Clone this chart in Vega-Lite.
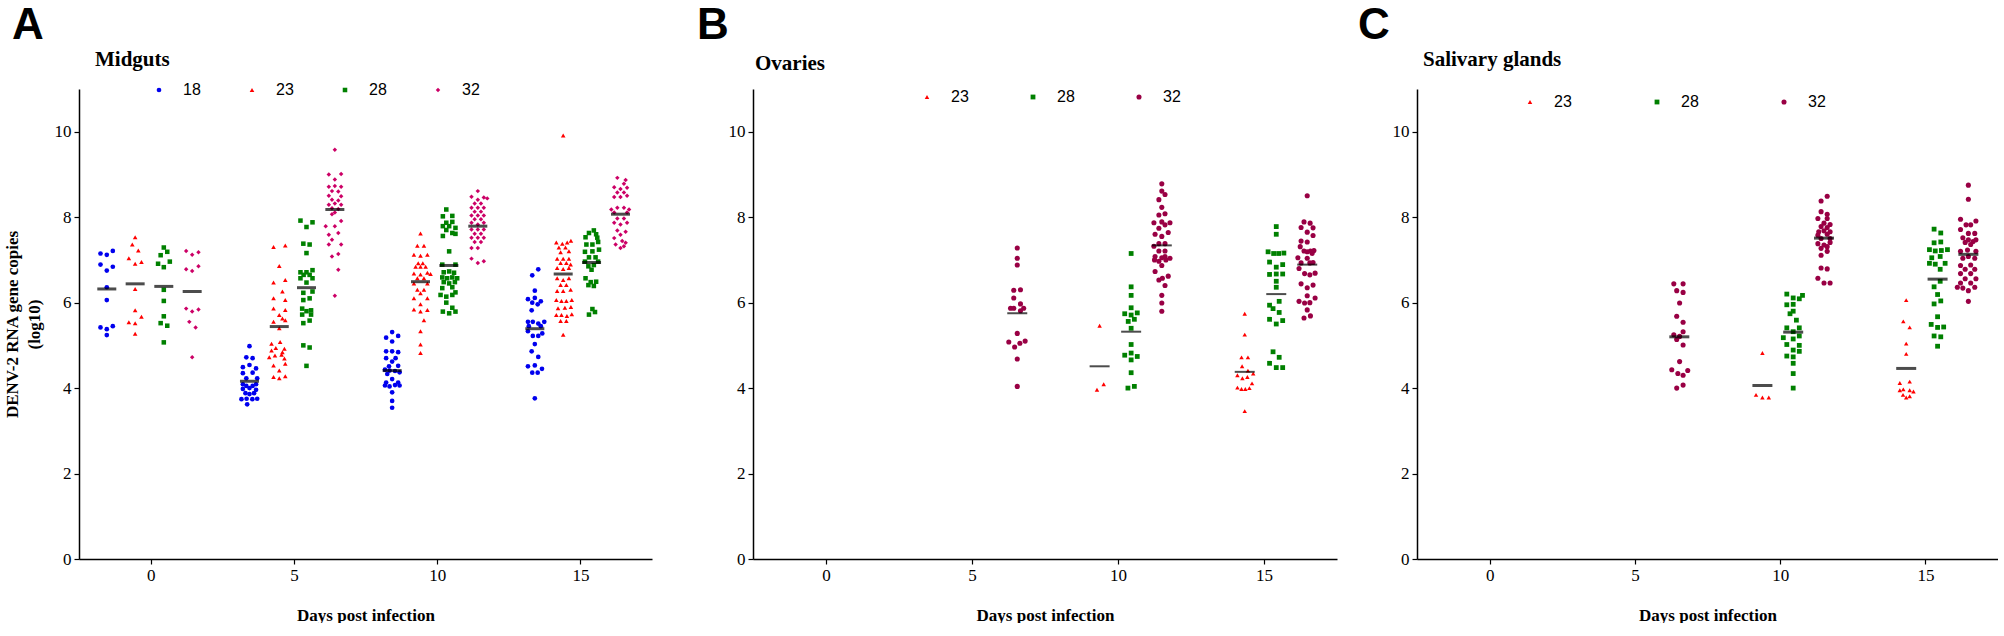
{
  "$schema": "https://vega.github.io/schema/vega-lite/v6.json",
  "padding": {"left": 3, "top": 4, "right": 0, "bottom": 0},
  "background": "white",
  "datasets": {
    "A": [
      {"t":"18","x":-1.75,"y":7.15},{"t":"18","x":-1.53,"y":7.12},{"t":"18","x":-1.32,"y":7.21},{"t":"18","x":-1.75,"y":6.89},{"t":"18","x":-1.32,"y":6.84},{"t":"18","x":-1.53,"y":6.75},{"t":"18","x":-1.53,"y":6.36},{"t":"18","x":-1.53,"y":6.06},{"t":"18","x":-1.75,"y":5.42},{"t":"18","x":-1.53,"y":5.38},{"t":"18","x":-1.32,"y":5.45},{"t":"18","x":-1.53,"y":5.24},
      {"t":"23","x":-0.54,"y":7.53},{"t":"23","x":-0.64,"y":7.36},{"t":"23","x":-0.43,"y":7.22},{"t":"23","x":-0.76,"y":7.04},{"t":"23","x":-0.54,"y":6.91},{"t":"23","x":-0.32,"y":6.95},{"t":"23","x":-0.54,"y":6.32},{"t":"23","x":-0.54,"y":5.82},{"t":"23","x":-0.76,"y":5.54},{"t":"23","x":-0.54,"y":5.52},{"t":"23","x":-0.32,"y":5.67},{"t":"23","x":-0.54,"y":5.27},
      {"t":"28","x":0.46,"y":7.29},{"t":"28","x":0.58,"y":7.19},{"t":"28","x":0.35,"y":7.11},{"t":"28","x":0.26,"y":6.91},{"t":"28","x":0.67,"y":6.96},{"t":"28","x":0.46,"y":6.83},{"t":"28","x":0.46,"y":6.30},{"t":"28","x":0.46,"y":6.04},{"t":"28","x":0.46,"y":5.68},{"t":"28","x":0.35,"y":5.52},{"t":"28","x":0.58,"y":5.46},{"t":"28","x":0.46,"y":5.07},
      {"t":"32","x":1.24,"y":7.21},{"t":"32","x":1.45,"y":7.12},{"t":"32","x":1.67,"y":7.18},{"t":"32","x":1.24,"y":6.78},{"t":"32","x":1.45,"y":6.74},{"t":"32","x":1.67,"y":6.85},{"t":"32","x":1.24,"y":5.86},{"t":"32","x":1.45,"y":5.79},{"t":"32","x":1.67,"y":5.84},{"t":"32","x":1.35,"y":5.55},{"t":"32","x":1.57,"y":5.42},{"t":"32","x":1.45,"y":4.72},
      {"t":"18","x":3.45,"y":4.98},{"t":"18","x":3.34,"y":4.72},{"t":"18","x":3.56,"y":4.70},{"t":"18","x":3.22,"y":4.49},{"t":"18","x":3.45,"y":4.54},{"t":"18","x":3.68,"y":4.46},{"t":"18","x":3.22,"y":4.35},{"t":"18","x":3.56,"y":4.36},{"t":"18","x":3.34,"y":4.23},{"t":"18","x":3.72,"y":4.23},{"t":"18","x":3.22,"y":4.09},{"t":"18","x":3.34,"y":4.05},{"t":"18","x":3.45,"y":4.00},{"t":"18","x":3.56,"y":4.05},{"t":"18","x":3.68,"y":4.09},{"t":"18","x":3.22,"y":3.98},{"t":"18","x":3.68,"y":3.96},{"t":"18","x":3.31,"y":3.88},{"t":"18","x":3.45,"y":3.86},{"t":"18","x":3.61,"y":3.88},{"t":"18","x":3.17,"y":3.74},{"t":"18","x":3.35,"y":3.75},{"t":"18","x":3.55,"y":3.74},{"t":"18","x":3.72,"y":3.75},{"t":"18","x":3.37,"y":3.62},
      {"t":"23","x":4.29,"y":7.30},{"t":"23","x":4.70,"y":7.34},{"t":"23","x":4.49,"y":6.86},{"t":"23","x":4.29,"y":6.47},{"t":"23","x":4.70,"y":6.53},{"t":"23","x":4.60,"y":6.26},{"t":"23","x":4.29,"y":6.10},{"t":"23","x":4.70,"y":6.06},{"t":"23","x":4.29,"y":5.86},{"t":"23","x":4.70,"y":5.83},{"t":"23","x":4.49,"y":5.71},{"t":"23","x":4.60,"y":5.63},{"t":"23","x":4.29,"y":5.55},{"t":"23","x":4.70,"y":5.59},{"t":"23","x":4.49,"y":5.40},{"t":"23","x":4.22,"y":5.04},{"t":"23","x":4.52,"y":5.08},{"t":"23","x":4.37,"y":4.94},{"t":"23","x":4.67,"y":4.92},{"t":"23","x":4.22,"y":4.88},{"t":"23","x":4.60,"y":4.84},{"t":"23","x":4.34,"y":4.76},{"t":"23","x":4.57,"y":4.78},{"t":"23","x":4.14,"y":4.72},{"t":"23","x":4.67,"y":4.69},{"t":"23","x":4.29,"y":4.53},{"t":"23","x":4.70,"y":4.57},{"t":"23","x":4.49,"y":4.41},{"t":"23","x":4.29,"y":4.26},{"t":"23","x":4.70,"y":4.28},{"t":"23","x":4.49,"y":4.23},
      {"t":"28","x":5.23,"y":7.92},{"t":"28","x":5.65,"y":7.88},{"t":"28","x":5.44,"y":7.77},{"t":"28","x":5.33,"y":7.38},{"t":"28","x":5.55,"y":7.36},{"t":"28","x":5.44,"y":7.16},{"t":"28","x":5.23,"y":6.71},{"t":"28","x":5.44,"y":6.71},{"t":"28","x":5.65,"y":6.76},{"t":"28","x":5.34,"y":6.65},{"t":"28","x":5.55,"y":6.65},{"t":"28","x":5.23,"y":6.57},{"t":"28","x":5.65,"y":6.57},{"t":"28","x":5.44,"y":6.47},{"t":"28","x":5.65,"y":6.26},{"t":"28","x":5.33,"y":6.23},{"t":"28","x":5.55,"y":6.10},{"t":"28","x":5.33,"y":6.06},{"t":"28","x":5.29,"y":5.86},{"t":"28","x":5.44,"y":5.80},{"t":"28","x":5.60,"y":5.82},{"t":"28","x":5.29,"y":5.72},{"t":"28","x":5.60,"y":5.72},{"t":"28","x":5.55,"y":5.58},{"t":"28","x":5.33,"y":5.52},{"t":"28","x":5.33,"y":5.00},{"t":"28","x":5.55,"y":4.95},{"t":"28","x":5.44,"y":4.52},
      {"t":"32","x":6.43,"y":9.58},{"t":"32","x":6.22,"y":9.00},{"t":"32","x":6.65,"y":9.01},{"t":"32","x":6.43,"y":8.88},{"t":"32","x":6.22,"y":8.71},{"t":"32","x":6.43,"y":8.73},{"t":"32","x":6.65,"y":8.71},{"t":"32","x":6.33,"y":8.61},{"t":"32","x":6.55,"y":8.60},{"t":"32","x":6.22,"y":8.50},{"t":"32","x":6.65,"y":8.49},{"t":"32","x":6.33,"y":8.41},{"t":"32","x":6.55,"y":8.39},{"t":"32","x":6.43,"y":8.32},{"t":"32","x":6.22,"y":8.29},{"t":"32","x":6.65,"y":8.29},{"t":"32","x":6.33,"y":8.21},{"t":"32","x":6.55,"y":8.19},{"t":"32","x":6.43,"y":8.11},{"t":"32","x":6.33,"y":8.07},{"t":"32","x":6.11,"y":7.79},{"t":"32","x":6.43,"y":7.79},{"t":"32","x":6.65,"y":7.91},{"t":"32","x":6.22,"y":7.59},{"t":"32","x":6.55,"y":7.63},{"t":"32","x":6.33,"y":7.47},{"t":"32","x":6.22,"y":7.36},{"t":"32","x":6.65,"y":7.36},{"t":"32","x":6.55,"y":7.14},{"t":"32","x":6.33,"y":7.08},{"t":"32","x":6.55,"y":6.77},{"t":"32","x":6.43,"y":6.16},
      {"t":"18","x":8.22,"y":5.18},{"t":"18","x":8.43,"y":5.31},{"t":"18","x":8.64,"y":5.22},{"t":"18","x":8.43,"y":5.09},{"t":"18","x":8.22,"y":4.86},{"t":"18","x":8.43,"y":4.86},{"t":"18","x":8.64,"y":4.84},{"t":"18","x":8.22,"y":4.70},{"t":"18","x":8.55,"y":4.70},{"t":"18","x":8.43,"y":4.62},{"t":"18","x":8.32,"y":4.51},{"t":"18","x":8.64,"y":4.52},{"t":"18","x":8.18,"y":4.43},{"t":"18","x":8.34,"y":4.41},{"t":"18","x":8.53,"y":4.40},{"t":"18","x":8.69,"y":4.37},{"t":"18","x":8.26,"y":4.33},{"t":"18","x":8.43,"y":4.21},{"t":"18","x":8.22,"y":4.13},{"t":"18","x":8.64,"y":4.13},{"t":"18","x":8.18,"y":4.06},{"t":"18","x":8.34,"y":4.04},{"t":"18","x":8.53,"y":4.07},{"t":"18","x":8.69,"y":4.06},{"t":"18","x":8.43,"y":3.90},{"t":"18","x":8.43,"y":3.70},{"t":"18","x":8.43,"y":3.54},
      {"t":"23","x":9.42,"y":7.62},{"t":"23","x":9.31,"y":7.33},{"t":"23","x":9.54,"y":7.33},{"t":"23","x":9.19,"y":7.12},{"t":"23","x":9.42,"y":7.10},{"t":"23","x":9.66,"y":7.12},{"t":"23","x":9.34,"y":6.92},{"t":"23","x":9.50,"y":6.92},{"t":"23","x":9.25,"y":6.84},{"t":"23","x":9.42,"y":6.84},{"t":"23","x":9.60,"y":6.84},{"t":"23","x":9.19,"y":6.68},{"t":"23","x":9.66,"y":6.70},{"t":"23","x":9.42,"y":6.66},{"t":"23","x":9.31,"y":6.57},{"t":"23","x":9.54,"y":6.57},{"t":"23","x":9.77,"y":6.67},{"t":"23","x":9.19,"y":6.45},{"t":"23","x":9.66,"y":6.45},{"t":"23","x":9.31,"y":6.30},{"t":"23","x":9.54,"y":6.30},{"t":"23","x":9.42,"y":6.22},{"t":"23","x":9.19,"y":6.10},{"t":"23","x":9.66,"y":6.10},{"t":"23","x":9.42,"y":5.96},{"t":"23","x":9.19,"y":5.84},{"t":"23","x":9.42,"y":5.79},{"t":"23","x":9.66,"y":5.83},{"t":"23","x":9.54,"y":5.59},{"t":"23","x":9.42,"y":5.33},{"t":"23","x":9.42,"y":5.02},{"t":"23","x":9.42,"y":4.82},
      {"t":"28","x":10.32,"y":8.18},{"t":"28","x":10.20,"y":8.02},{"t":"28","x":10.53,"y":8.03},{"t":"28","x":10.32,"y":7.87},{"t":"28","x":10.53,"y":7.89},{"t":"28","x":10.20,"y":7.79},{"t":"28","x":10.42,"y":7.79},{"t":"28","x":10.64,"y":7.75},{"t":"28","x":10.32,"y":7.70},{"t":"28","x":10.53,"y":7.63},{"t":"28","x":10.20,"y":7.56},{"t":"28","x":10.64,"y":7.61},{"t":"28","x":10.42,"y":7.20},{"t":"28","x":10.18,"y":6.89},{"t":"28","x":10.64,"y":6.89},{"t":"28","x":10.23,"y":6.71},{"t":"28","x":10.42,"y":6.73},{"t":"28","x":10.59,"y":6.70},{"t":"28","x":10.18,"y":6.59},{"t":"28","x":10.35,"y":6.57},{"t":"28","x":10.53,"y":6.59},{"t":"28","x":10.70,"y":6.57},{"t":"28","x":10.23,"y":6.48},{"t":"28","x":10.42,"y":6.45},{"t":"28","x":10.62,"y":6.48},{"t":"28","x":10.18,"y":6.34},{"t":"28","x":10.53,"y":6.36},{"t":"28","x":10.12,"y":6.18},{"t":"28","x":10.32,"y":6.14},{"t":"28","x":10.53,"y":6.18},{"t":"28","x":10.64,"y":6.24},{"t":"28","x":10.32,"y":6.00},{"t":"28","x":10.53,"y":5.88},{"t":"28","x":10.20,"y":5.79},{"t":"28","x":10.42,"y":5.75},{"t":"28","x":10.64,"y":5.79},
      {"t":"32","x":11.42,"y":8.61},{"t":"32","x":11.20,"y":8.48},{"t":"32","x":11.63,"y":8.46},{"t":"32","x":11.42,"y":8.41},{"t":"32","x":11.31,"y":8.32},{"t":"32","x":11.53,"y":8.32},{"t":"32","x":11.75,"y":8.44},{"t":"32","x":11.20,"y":8.22},{"t":"32","x":11.42,"y":8.22},{"t":"32","x":11.63,"y":8.22},{"t":"32","x":11.31,"y":8.13},{"t":"32","x":11.53,"y":8.13},{"t":"32","x":11.20,"y":8.04},{"t":"32","x":11.42,"y":8.04},{"t":"32","x":11.63,"y":8.04},{"t":"32","x":11.31,"y":7.95},{"t":"32","x":11.53,"y":7.95},{"t":"32","x":11.20,"y":7.87},{"t":"32","x":11.42,"y":7.83},{"t":"32","x":11.63,"y":7.87},{"t":"32","x":11.20,"y":7.71},{"t":"32","x":11.42,"y":7.71},{"t":"32","x":11.63,"y":7.71},{"t":"32","x":11.31,"y":7.61},{"t":"32","x":11.53,"y":7.61},{"t":"32","x":11.20,"y":7.52},{"t":"32","x":11.42,"y":7.52},{"t":"32","x":11.63,"y":7.52},{"t":"32","x":11.31,"y":7.42},{"t":"32","x":11.53,"y":7.42},{"t":"32","x":11.20,"y":7.28},{"t":"32","x":11.42,"y":7.28},{"t":"32","x":11.20,"y":7.03},{"t":"32","x":11.63,"y":6.97},{"t":"32","x":11.42,"y":6.93},
      {"t":"18","x":13.32,"y":6.64},{"t":"18","x":13.53,"y":6.78},{"t":"18","x":13.41,"y":6.28},{"t":"18","x":13.17,"y":6.08},{"t":"18","x":13.41,"y":6.11},{"t":"18","x":13.62,"y":6.03},{"t":"18","x":13.32,"y":6.00},{"t":"18","x":13.51,"y":5.96},{"t":"18","x":13.30,"y":5.82},{"t":"18","x":13.17,"y":5.55},{"t":"18","x":13.34,"y":5.55},{"t":"18","x":13.53,"y":5.51},{"t":"18","x":13.74,"y":5.55},{"t":"18","x":13.20,"y":5.45},{"t":"18","x":13.62,"y":5.45},{"t":"18","x":13.17,"y":5.33},{"t":"18","x":13.34,"y":5.22},{"t":"18","x":13.53,"y":5.22},{"t":"18","x":13.67,"y":5.28},{"t":"18","x":13.41,"y":5.03},{"t":"18","x":13.30,"y":4.86},{"t":"18","x":13.53,"y":4.73},{"t":"18","x":13.17,"y":4.51},{"t":"18","x":13.41,"y":4.53},{"t":"18","x":13.66,"y":4.45},{"t":"18","x":13.32,"y":4.36},{"t":"18","x":13.51,"y":4.36},{"t":"18","x":13.41,"y":3.76},
      {"t":"23","x":14.40,"y":9.91},{"t":"23","x":14.16,"y":7.41},{"t":"23","x":14.37,"y":7.38},{"t":"23","x":14.54,"y":7.41},{"t":"23","x":14.67,"y":7.45},{"t":"23","x":14.25,"y":7.29},{"t":"23","x":14.48,"y":7.29},{"t":"23","x":14.31,"y":7.18},{"t":"23","x":14.60,"y":7.20},{"t":"23","x":14.19,"y":7.03},{"t":"23","x":14.40,"y":7.03},{"t":"23","x":14.60,"y":7.03},{"t":"23","x":14.31,"y":6.93},{"t":"23","x":14.51,"y":6.93},{"t":"23","x":14.66,"y":6.89},{"t":"23","x":14.19,"y":6.81},{"t":"23","x":14.40,"y":6.79},{"t":"23","x":14.60,"y":6.81},{"t":"23","x":14.19,"y":6.57},{"t":"23","x":14.40,"y":6.53},{"t":"23","x":14.60,"y":6.57},{"t":"23","x":14.31,"y":6.41},{"t":"23","x":14.51,"y":6.41},{"t":"23","x":14.19,"y":6.27},{"t":"23","x":14.40,"y":6.27},{"t":"23","x":14.66,"y":6.30},{"t":"23","x":14.16,"y":6.06},{"t":"23","x":14.34,"y":6.04},{"t":"23","x":14.51,"y":6.04},{"t":"23","x":14.70,"y":6.06},{"t":"23","x":14.22,"y":5.87},{"t":"23","x":14.46,"y":5.88},{"t":"23","x":14.67,"y":5.90},{"t":"23","x":14.16,"y":5.71},{"t":"23","x":14.34,"y":5.71},{"t":"23","x":14.53,"y":5.69},{"t":"23","x":14.70,"y":5.73},{"t":"23","x":14.31,"y":5.57},{"t":"23","x":14.51,"y":5.57},{"t":"23","x":14.40,"y":5.25},
      {"t":"28","x":15.30,"y":7.63},{"t":"28","x":15.47,"y":7.69},{"t":"28","x":15.55,"y":7.60},{"t":"28","x":15.18,"y":7.53},{"t":"28","x":15.59,"y":7.52},{"t":"28","x":15.21,"y":7.36},{"t":"28","x":15.42,"y":7.36},{"t":"28","x":15.62,"y":7.42},{"t":"28","x":15.16,"y":7.19},{"t":"28","x":15.42,"y":7.20},{"t":"28","x":15.65,"y":7.24},{"t":"28","x":15.30,"y":7.06},{"t":"28","x":15.53,"y":7.06},{"t":"28","x":15.16,"y":6.96},{"t":"28","x":15.62,"y":6.96},{"t":"28","x":15.28,"y":6.85},{"t":"28","x":15.47,"y":6.88},{"t":"28","x":15.39,"y":6.77},{"t":"28","x":15.18,"y":6.57},{"t":"28","x":15.36,"y":6.48},{"t":"28","x":15.55,"y":6.49},{"t":"28","x":15.28,"y":6.41},{"t":"28","x":15.47,"y":6.39},{"t":"28","x":15.30,"y":5.72},{"t":"28","x":15.51,"y":5.78},{"t":"28","x":15.42,"y":5.85},
      {"t":"32","x":16.29,"y":8.92},{"t":"32","x":16.58,"y":8.87},{"t":"32","x":16.52,"y":8.78},{"t":"32","x":16.18,"y":8.70},{"t":"32","x":16.40,"y":8.66},{"t":"32","x":16.63,"y":8.69},{"t":"32","x":16.29,"y":8.58},{"t":"32","x":16.52,"y":8.58},{"t":"32","x":16.18,"y":8.47},{"t":"32","x":16.40,"y":8.47},{"t":"32","x":16.63,"y":8.50},{"t":"32","x":16.08,"y":8.18},{"t":"32","x":16.29,"y":8.22},{"t":"32","x":16.52,"y":8.22},{"t":"32","x":16.70,"y":8.18},{"t":"32","x":16.18,"y":8.11},{"t":"32","x":16.63,"y":8.11},{"t":"32","x":16.29,"y":7.97},{"t":"32","x":16.52,"y":7.97},{"t":"32","x":16.18,"y":7.87},{"t":"32","x":16.40,"y":7.83},{"t":"32","x":16.63,"y":7.87},{"t":"32","x":16.29,"y":7.69},{"t":"32","x":16.58,"y":7.66},{"t":"32","x":16.18,"y":7.51},{"t":"32","x":16.40,"y":7.59},{"t":"32","x":16.23,"y":7.36},{"t":"32","x":16.58,"y":7.40},{"t":"32","x":16.40,"y":7.28},{"t":"32","x":16.52,"y":7.32},{"t":"32","x":16.46,"y":7.44}
    ],
    "Amed": [
      {"t":"18","x":-1.53,"y":6.32},{"t":"18","x":3.45,"y":4.16},{"t":"18","x":8.43,"y":4.41},{"t":"18","x":13.41,"y":5.39},
      {"t":"23","x":-0.54,"y":6.44},{"t":"23","x":4.49,"y":5.44},{"t":"23","x":9.42,"y":6.49},{"t":"23","x":14.40,"y":6.67},
      {"t":"28","x":0.46,"y":6.38},{"t":"28","x":5.44,"y":6.35},{"t":"28","x":10.41,"y":6.87},{"t":"28","x":15.39,"y":6.94},
      {"t":"32","x":1.45,"y":6.26},{"t":"32","x":6.43,"y":8.18},{"t":"32","x":11.42,"y":7.79},{"t":"32","x":16.40,"y":8.07}
    ],
    "B": [
      {"t":"32","x":6.55,"y":7.28},{"t":"32","x":6.55,"y":7.04},{"t":"32","x":6.55,"y":6.88},{"t":"32","x":6.43,"y":6.29},{"t":"32","x":6.66,"y":6.30},{"t":"32","x":6.43,"y":6.11},{"t":"32","x":6.66,"y":5.97},{"t":"32","x":6.32,"y":5.87},{"t":"32","x":6.43,"y":5.87},{"t":"32","x":6.77,"y":5.87},{"t":"32","x":6.66,"y":5.81},{"t":"32","x":6.55,"y":5.28},{"t":"32","x":6.26,"y":5.08},{"t":"32","x":6.46,"y":4.96},{"t":"32","x":6.64,"y":5.05},{"t":"32","x":6.82,"y":5.10},{"t":"32","x":6.55,"y":4.68},{"t":"32","x":6.55,"y":4.04},
      {"t":"23","x":9.37,"y":5.46},{"t":"23","x":9.51,"y":4.09},{"t":"23","x":9.28,"y":3.96},
      {"t":"28","x":10.45,"y":7.15},{"t":"28","x":10.45,"y":6.37},{"t":"28","x":10.45,"y":6.17},{"t":"28","x":10.45,"y":5.88},{"t":"28","x":10.23,"y":5.74},{"t":"28","x":10.45,"y":5.71},{"t":"28","x":10.66,"y":5.76},{"t":"28","x":10.56,"y":5.61},{"t":"28","x":10.35,"y":5.56},{"t":"28","x":10.45,"y":5.40},{"t":"28","x":10.45,"y":5.02},{"t":"28","x":10.23,"y":4.77},{"t":"28","x":10.45,"y":4.82},{"t":"28","x":10.66,"y":4.74},{"t":"28","x":10.45,"y":4.66},{"t":"28","x":10.45,"y":4.36},{"t":"28","x":10.34,"y":4.00},{"t":"28","x":10.56,"y":4.04},
      {"t":"32","x":11.50,"y":8.78},{"t":"32","x":11.50,"y":8.61},{"t":"32","x":11.61,"y":8.53},{"t":"32","x":11.40,"y":8.41},{"t":"32","x":11.50,"y":8.23},{"t":"32","x":11.40,"y":8.05},{"t":"32","x":11.61,"y":8.08},{"t":"32","x":11.23,"y":7.87},{"t":"32","x":11.50,"y":7.89},{"t":"32","x":11.78,"y":7.87},{"t":"32","x":11.61,"y":7.82},{"t":"32","x":11.40,"y":7.74},{"t":"32","x":11.27,"y":7.60},{"t":"32","x":11.72,"y":7.64},{"t":"32","x":11.50,"y":7.55},{"t":"32","x":11.40,"y":7.38},{"t":"32","x":11.61,"y":7.38},{"t":"32","x":11.23,"y":7.32},{"t":"32","x":11.40,"y":7.21},{"t":"32","x":11.61,"y":7.21},{"t":"32","x":11.27,"y":7.08},{"t":"32","x":11.61,"y":7.08},{"t":"32","x":11.50,"y":7.05},{"t":"32","x":11.25,"y":7.00},{"t":"32","x":11.40,"y":6.97},{"t":"32","x":11.64,"y":7.00},{"t":"32","x":11.78,"y":7.04},{"t":"32","x":11.50,"y":6.87},{"t":"32","x":11.27,"y":6.73},{"t":"32","x":11.40,"y":6.53},{"t":"32","x":11.52,"y":6.57},{"t":"32","x":11.72,"y":6.62},{"t":"32","x":11.61,"y":6.40},{"t":"32","x":11.50,"y":6.17},{"t":"32","x":11.50,"y":5.99},{"t":"32","x":11.50,"y":5.80},
      {"t":"23","x":14.34,"y":5.74},{"t":"23","x":14.34,"y":5.25},{"t":"23","x":14.23,"y":4.72},{"t":"23","x":14.45,"y":4.72},{"t":"23","x":14.25,"y":4.51},{"t":"23","x":14.45,"y":4.41},{"t":"23","x":14.09,"y":4.30},{"t":"23","x":14.26,"y":4.23},{"t":"23","x":14.43,"y":4.26},{"t":"23","x":14.63,"y":4.34},{"t":"23","x":14.59,"y":4.11},{"t":"23","x":14.09,"y":4.01},{"t":"23","x":14.23,"y":3.98},{"t":"23","x":14.36,"y":3.98},{"t":"23","x":14.50,"y":4.00},{"t":"23","x":14.34,"y":3.46},
      {"t":"28","x":15.42,"y":7.78},{"t":"28","x":15.42,"y":7.60},{"t":"28","x":15.14,"y":7.19},{"t":"28","x":15.33,"y":7.15},{"t":"28","x":15.50,"y":7.15},{"t":"28","x":15.68,"y":7.16},{"t":"28","x":15.19,"y":6.95},{"t":"28","x":15.42,"y":6.83},{"t":"28","x":15.64,"y":6.89},{"t":"28","x":15.19,"y":6.66},{"t":"28","x":15.42,"y":6.67},{"t":"28","x":15.64,"y":6.67},{"t":"28","x":15.42,"y":6.50},{"t":"28","x":15.42,"y":6.36},{"t":"28","x":15.52,"y":6.03},{"t":"28","x":15.19,"y":5.94},{"t":"28","x":15.31,"y":5.86},{"t":"28","x":15.52,"y":5.77},{"t":"28","x":15.19,"y":5.61},{"t":"28","x":15.42,"y":5.50},{"t":"28","x":15.64,"y":5.58},{"t":"28","x":15.31,"y":4.85},{"t":"28","x":15.52,"y":4.72},{"t":"28","x":15.19,"y":4.58},{"t":"28","x":15.42,"y":4.48},{"t":"28","x":15.64,"y":4.48},
      {"t":"32","x":16.48,"y":8.50},{"t":"32","x":16.37,"y":7.89},{"t":"32","x":16.58,"y":7.86},{"t":"32","x":16.27,"y":7.76},{"t":"32","x":16.68,"y":7.75},{"t":"32","x":16.48,"y":7.65},{"t":"32","x":16.68,"y":7.57},{"t":"32","x":16.27,"y":7.44},{"t":"32","x":16.48,"y":7.42},{"t":"32","x":16.24,"y":7.31},{"t":"32","x":16.37,"y":7.21},{"t":"32","x":16.48,"y":7.19},{"t":"32","x":16.59,"y":7.21},{"t":"32","x":16.71,"y":7.22},{"t":"32","x":16.65,"y":7.15},{"t":"32","x":16.16,"y":7.05},{"t":"32","x":16.48,"y":7.04},{"t":"32","x":16.27,"y":6.93},{"t":"32","x":16.57,"y":6.93},{"t":"32","x":16.68,"y":6.94},{"t":"32","x":16.20,"y":6.80},{"t":"32","x":16.39,"y":6.68},{"t":"32","x":16.57,"y":6.65},{"t":"32","x":16.75,"y":6.69},{"t":"32","x":16.27,"y":6.44},{"t":"32","x":16.48,"y":6.35},{"t":"32","x":16.68,"y":6.41},{"t":"32","x":16.48,"y":6.16},{"t":"32","x":16.75,"y":6.11},{"t":"32","x":16.20,"y":6.03},{"t":"32","x":16.39,"y":5.99},{"t":"32","x":16.57,"y":6.00},{"t":"32","x":16.48,"y":5.83},{"t":"32","x":16.37,"y":5.64},{"t":"32","x":16.59,"y":5.69}
    ],
    "Bmed": [
      {"t":"32","x":6.55,"y":5.75},{"t":"32","x":11.50,"y":7.34},{"t":"32","x":16.48,"y":6.89},
      {"t":"23","x":9.37,"y":4.51},{"t":"23","x":14.34,"y":4.38},
      {"t":"28","x":10.45,"y":5.32},{"t":"28","x":15.42,"y":6.20}
    ],
    "C": [
      {"t":"32","x":6.34,"y":6.44},{"t":"32","x":6.66,"y":6.44},{"t":"32","x":6.44,"y":6.28},{"t":"32","x":6.66,"y":6.24},{"t":"32","x":6.54,"y":5.99},{"t":"32","x":6.44,"y":5.68},{"t":"32","x":6.66,"y":5.54},{"t":"32","x":6.66,"y":5.32},{"t":"32","x":6.34,"y":5.25},{"t":"32","x":6.54,"y":5.21},{"t":"32","x":6.44,"y":5.14},{"t":"32","x":6.66,"y":5.01},{"t":"32","x":6.54,"y":4.62},{"t":"32","x":6.27,"y":4.43},{"t":"32","x":6.48,"y":4.34},{"t":"32","x":6.66,"y":4.30},{"t":"32","x":6.82,"y":4.41},{"t":"32","x":6.66,"y":4.07},{"t":"32","x":6.44,"y":4.00},
      {"t":"23","x":9.39,"y":4.82},{"t":"23","x":9.17,"y":3.84},{"t":"23","x":9.39,"y":3.78},{"t":"23","x":9.61,"y":3.78},
      {"t":"28","x":10.23,"y":6.20},{"t":"28","x":10.45,"y":6.11},{"t":"28","x":10.66,"y":6.09},{"t":"28","x":10.77,"y":6.17},{"t":"28","x":10.23,"y":5.95},{"t":"28","x":10.45,"y":5.96},{"t":"28","x":10.45,"y":5.80},{"t":"28","x":10.34,"y":5.74},{"t":"28","x":10.56,"y":5.59},{"t":"28","x":10.23,"y":5.41},{"t":"28","x":10.66,"y":5.41},{"t":"28","x":10.45,"y":5.32},{"t":"28","x":10.66,"y":5.22},{"t":"28","x":10.11,"y":5.18},{"t":"28","x":10.45,"y":5.15},{"t":"28","x":10.23,"y":5.02},{"t":"28","x":10.66,"y":5.00},{"t":"28","x":10.45,"y":4.89},{"t":"28","x":10.23,"y":4.75},{"t":"28","x":10.66,"y":4.86},{"t":"28","x":10.45,"y":4.73},{"t":"28","x":10.45,"y":4.58},{"t":"28","x":10.45,"y":4.34},{"t":"28","x":10.45,"y":4.00},
      {"t":"32","x":11.62,"y":8.49},{"t":"32","x":11.41,"y":8.38},{"t":"32","x":11.41,"y":8.13},{"t":"32","x":11.62,"y":8.07},{"t":"32","x":11.30,"y":7.97},{"t":"32","x":11.62,"y":7.97},{"t":"32","x":11.51,"y":7.86},{"t":"32","x":11.72,"y":7.83},{"t":"32","x":11.41,"y":7.78},{"t":"32","x":11.62,"y":7.76},{"t":"32","x":11.33,"y":7.66},{"t":"32","x":11.51,"y":7.68},{"t":"32","x":11.72,"y":7.66},{"t":"32","x":11.30,"y":7.58},{"t":"32","x":11.62,"y":7.60},{"t":"32","x":11.41,"y":7.50},{"t":"32","x":11.72,"y":7.50},{"t":"32","x":11.30,"y":7.38},{"t":"32","x":11.51,"y":7.35},{"t":"32","x":11.72,"y":7.41},{"t":"32","x":11.62,"y":7.31},{"t":"32","x":11.41,"y":7.27},{"t":"32","x":11.62,"y":7.20},{"t":"32","x":11.41,"y":7.11},{"t":"32","x":11.41,"y":6.81},{"t":"32","x":11.62,"y":6.79},{"t":"32","x":11.30,"y":6.57},{"t":"32","x":11.51,"y":6.46},{"t":"32","x":11.72,"y":6.46},
      {"t":"23","x":14.34,"y":6.06},{"t":"23","x":14.24,"y":5.56},{"t":"23","x":14.46,"y":5.42},{"t":"23","x":14.34,"y":5.04},{"t":"23","x":14.34,"y":4.80},{"t":"23","x":14.12,"y":4.12},{"t":"23","x":14.46,"y":4.15},{"t":"23","x":14.12,"y":3.95},{"t":"23","x":14.24,"y":3.97},{"t":"23","x":14.46,"y":3.95},{"t":"23","x":14.59,"y":3.92},{"t":"23","x":14.23,"y":3.84},{"t":"23","x":14.34,"y":3.78},{"t":"23","x":14.46,"y":3.81},
      {"t":"28","x":15.30,"y":7.72},{"t":"28","x":15.53,"y":7.63},{"t":"28","x":15.30,"y":7.40},{"t":"28","x":15.53,"y":7.42},{"t":"28","x":15.14,"y":7.24},{"t":"28","x":15.34,"y":7.21},{"t":"28","x":15.55,"y":7.22},{"t":"28","x":15.76,"y":7.24},{"t":"28","x":15.22,"y":7.05},{"t":"28","x":15.51,"y":7.08},{"t":"28","x":15.14,"y":6.92},{"t":"28","x":15.34,"y":6.90},{"t":"28","x":15.68,"y":6.92},{"t":"28","x":15.51,"y":6.78},{"t":"28","x":15.51,"y":6.50},{"t":"28","x":15.30,"y":6.37},{"t":"28","x":15.42,"y":6.19},{"t":"28","x":15.53,"y":6.04},{"t":"28","x":15.30,"y":5.97},{"t":"28","x":15.42,"y":5.67},{"t":"28","x":15.20,"y":5.49},{"t":"28","x":15.42,"y":5.42},{"t":"28","x":15.63,"y":5.43},{"t":"28","x":15.30,"y":5.22},{"t":"28","x":15.53,"y":5.20},{"t":"28","x":15.42,"y":4.98},
      {"t":"32","x":16.48,"y":8.75},{"t":"32","x":16.48,"y":8.42},{"t":"32","x":16.21,"y":7.95},{"t":"32","x":16.74,"y":7.91},{"t":"32","x":16.40,"y":7.82},{"t":"32","x":16.56,"y":7.82},{"t":"32","x":16.21,"y":7.71},{"t":"32","x":16.48,"y":7.62},{"t":"32","x":16.70,"y":7.62},{"t":"32","x":16.29,"y":7.52},{"t":"32","x":16.48,"y":7.47},{"t":"32","x":16.64,"y":7.43},{"t":"32","x":16.37,"y":7.41},{"t":"32","x":16.56,"y":7.36},{"t":"32","x":16.74,"y":7.47},{"t":"32","x":16.21,"y":7.20},{"t":"32","x":16.45,"y":7.23},{"t":"32","x":16.74,"y":7.20},{"t":"32","x":16.48,"y":7.08},{"t":"32","x":16.29,"y":7.04},{"t":"32","x":16.70,"y":7.04},{"t":"32","x":16.21,"y":6.87},{"t":"32","x":16.56,"y":6.88},{"t":"32","x":16.37,"y":6.78},{"t":"32","x":16.70,"y":6.78},{"t":"32","x":16.21,"y":6.68},{"t":"32","x":16.56,"y":6.68},{"t":"32","x":16.37,"y":6.56},{"t":"32","x":16.74,"y":6.56},{"t":"32","x":16.21,"y":6.46},{"t":"32","x":16.56,"y":6.46},{"t":"32","x":16.29,"y":6.34},{"t":"32","x":16.48,"y":6.28},{"t":"32","x":16.70,"y":6.36},{"t":"32","x":16.10,"y":6.36},{"t":"32","x":16.48,"y":6.03}
    ],
    "Cmed": [
      {"t":"32","x":6.53,"y":5.20},{"t":"32","x":11.51,"y":7.51},{"t":"32","x":16.48,"y":7.13},
      {"t":"23","x":9.39,"y":4.06},{"t":"23","x":14.34,"y":4.46},
      {"t":"28","x":10.45,"y":5.31},{"t":"28","x":15.42,"y":6.55}
    ]
  },
  "spacing": 45,
  "resolve": {"scale": {"x": "independent", "y": "independent", "color": "independent", "shape": "independent", "size": "independent"}, "legend": {"color": "independent", "shape": "independent"}},
  "hconcat": [
    {
      "title": {"text": "A", "anchor": "start", "frame": "group", "dx": -67, "font": "Liberation Sans", "fontSize": 44, "fontWeight": "bold", "color": "#000", "offset": 1},
      "vconcat": [
        {
          "width": 573,
          "height": 470,
          "title": {"text": "Midguts", "anchor": "start", "frame": "group", "dx": 16, "font": "Liberation Serif", "fontSize": 21, "fontWeight": "bold", "color": "#000", "offset": 19},
          "layer": [
            {
              "data": {"name": "A"},
              "mark": {"type": "point", "filled": true, "opacity": 1},
              "encoding": {
                "x": {"field": "x", "type": "quantitative", "scale": {"domain": [-2.5, 17.5], "nice": false, "zero": false}, "axis": {"values": [0, 5, 10, 15], "title": "Days post infection"}},
                "y": {"field": "y", "type": "quantitative", "scale": {"domain": [0, 11], "nice": false}, "axis": {"values": [0, 2, 4, 6, 8, 10], "title": ["DENV-2 RNA gene copies", "(log10)"], "titleLineHeight": 22, "titlePadding": 11}},
                "color": {"field": "t", "type": "nominal", "scale": {"domain": ["18", "23", "28", "32"], "range": ["#0000ee", "#ff0000", "#008000", "#cc0066"]},
                  "legend": {"orient": "none", "legendX": 72, "legendY": -7, "direction": "horizontal", "title": null, "columnPadding": 43, "labelOffset": 16, "symbolSize": 20, "padding": 0}},
                "shape": {"field": "t", "type": "nominal", "scale": {"domain": ["18", "23", "28", "32"], "range": ["circle", "triangle-up", "square", "diamond"]},
                  "legend": {"orient": "none", "legendX": 72, "legendY": -7, "direction": "horizontal", "title": null, "columnPadding": 43, "labelOffset": 16, "symbolSize": 20, "padding": 0}},
                "size": {"field": "t", "type": "nominal", "scale": {"domain": ["18", "23", "28", "32"], "range": [22, 20, 22, 14]}, "legend": null}
              }
            },
            {
              "data": {"name": "Amed"},
              "mark": {"type": "tick", "orient": "horizontal", "color": "#000", "thickness": 3, "size": 19},
              "encoding": {
                "x": {"field": "x", "type": "quantitative"},
                "y": {"field": "y", "type": "quantitative"}
              }
            }
          ]
        }
      ]
    },
    {
      "spacing": 21,
      "resolve": {"scale": {"x": "independent", "y": "independent", "color": "independent", "shape": "independent", "size": "independent"}, "legend": {"color": "independent", "shape": "independent"}},
      "hconcat": [
        {
          "title": {"text": "B", "anchor": "start", "frame": "group", "dx": -56, "font": "Liberation Sans", "fontSize": 44, "fontWeight": "bold", "color": "#000", "offset": 5},
          "vconcat": [
            {
              "width": 584,
              "height": 470,
              "title": {"text": "Ovaries", "anchor": "start", "frame": "group", "dx": 2, "font": "Liberation Serif", "fontSize": 21, "fontWeight": "bold", "color": "#000", "offset": 15},
              "layer": [
                {
                  "data": {"name": "B"},
                  "mark": {"type": "point", "filled": true, "opacity": 1},
                  "encoding": {
                    "x": {"field": "x", "type": "quantitative", "scale": {"domain": [-2.5, 17.5], "nice": false, "zero": false}, "axis": {"values": [0, 5, 10, 15], "title": "Days post infection"}},
                    "y": {"field": "y", "type": "quantitative", "scale": {"domain": [0, 11], "nice": false}, "axis": {"values": [0, 2, 4, 6, 8, 10], "title": null}},
                    "color": {"field": "t", "type": "nominal", "scale": {"domain": ["23", "28", "32"], "range": ["#ff0000", "#008000", "#990044"]},
                      "legend": {"orient": "none", "legendX": 166, "legendY": 0, "direction": "horizontal", "title": null, "columnPadding": 56, "labelOffset": 16, "symbolSize": 20, "padding": 0}},
                    "shape": {"field": "t", "type": "nominal", "scale": {"domain": ["23", "28", "32"], "range": ["triangle-up", "square", "circle"]},
                      "legend": {"orient": "none", "legendX": 166, "legendY": 0, "direction": "horizontal", "title": null, "columnPadding": 56, "labelOffset": 16, "symbolSize": 20, "padding": 0}},
                    "size": {"field": "t", "type": "nominal", "scale": {"domain": ["23", "28", "32"], "range": [20, 26, 18]}, "legend": null}
                  }
                },
                {
                  "data": {"name": "Bmed"},
                  "mark": {"type": "tick", "orient": "horizontal", "color": "#000", "thickness": 2, "size": 20},
                  "encoding": {
                    "x": {"field": "x", "type": "quantitative"},
                    "y": {"field": "y", "type": "quantitative"}
                  }
                }
              ]
            }
          ]
        },
        {
          "title": {"text": "C", "anchor": "start", "frame": "group", "dx": -59, "font": "Liberation Sans", "fontSize": 44, "fontWeight": "bold", "color": "#000", "offset": 1},
          "vconcat": [
            {
              "width": 581,
              "height": 470,
              "title": {"text": "Salivary glands", "anchor": "start", "frame": "group", "dx": 6, "font": "Liberation Serif", "fontSize": 21, "fontWeight": "bold", "color": "#000", "offset": 19},
              "layer": [
                {
                  "data": {"name": "C"},
                  "mark": {"type": "point", "filled": true, "opacity": 1},
                  "encoding": {
                    "x": {"field": "x", "type": "quantitative", "scale": {"domain": [-2.5, 17.5], "nice": false, "zero": false}, "axis": {"values": [0, 5, 10, 15], "title": "Days post infection"}},
                    "y": {"field": "y", "type": "quantitative", "scale": {"domain": [0, 11], "nice": false}, "axis": {"values": [0, 2, 4, 6, 8, 10], "title": null}},
                    "color": {"field": "t", "type": "nominal", "scale": {"domain": ["23", "28", "32"], "range": ["#ff0000", "#008000", "#990044"]},
                      "legend": {"orient": "none", "legendX": 105, "legendY": 5, "direction": "horizontal", "title": null, "columnPadding": 77, "labelOffset": 16, "symbolSize": 20, "padding": 0}},
                    "shape": {"field": "t", "type": "nominal", "scale": {"domain": ["23", "28", "32"], "range": ["triangle-up", "square", "circle"]},
                      "legend": {"orient": "none", "legendX": 105, "legendY": 5, "direction": "horizontal", "title": null, "columnPadding": 77, "labelOffset": 16, "symbolSize": 20, "padding": 0}},
                    "size": {"field": "t", "type": "nominal", "scale": {"domain": ["23", "28", "32"], "range": [20, 26, 18]}, "legend": null}
                  }
                },
                {
                  "data": {"name": "Cmed"},
                  "mark": {"type": "tick", "orient": "horizontal", "color": "#000", "thickness": 3, "size": 20},
                  "encoding": {
                    "x": {"field": "x", "type": "quantitative"},
                    "y": {"field": "y", "type": "quantitative"}
                  }
                }
              ]
            }
          ]
        }
      ]
    }
  ],
  "config": {
    "view": {"stroke": null},
    "axis": {
      "grid": false,
      "domainColor": "#000",
      "domainWidth": 1.5,
      "tickColor": "#000",
      "tickWidth": 1.2,
      "tickSize": 5,
      "labelFont": "Liberation Serif",
      "labelFontSize": 17,
      "labelColor": "#000",
      "labelPadding": 3,
      "titleFont": "Liberation Serif",
      "titleFontSize": 17,
      "titleFontWeight": "bold",
      "titleColor": "#000"
    },
    "axisX": {"titlePadding": 24},
    "legend": {"labelFont": "Liberation Sans", "labelFontSize": 16, "labelColor": "#000"}
  }
}
